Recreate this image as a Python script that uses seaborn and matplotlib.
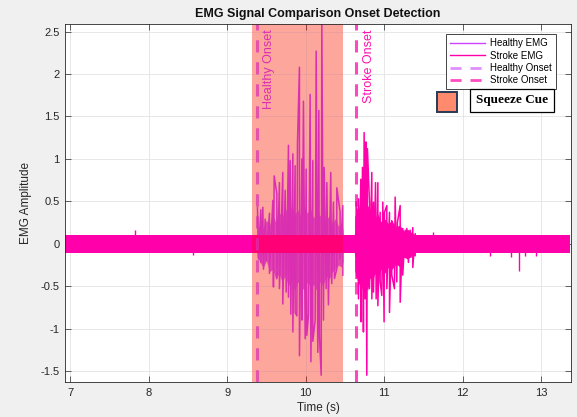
import numpy as np
import pandas as pd
import matplotlib
matplotlib.use("Agg")
import matplotlib.pyplot as plt
import seaborn as sns
from matplotlib.lines import Line2D
from matplotlib.patches import Rectangle

# ---------------- data ----------------
x_ticks = [7, 8, 9, 10, 11, 12, 13]
y_ticks = [-1.5, -1, -0.5, 0, 0.5, 1, 1.5, 2, 2.5]
y_tick_labels = ["-1.5", "-1", "-0.5", "0", "0.5", "1", "1.5", "2", "2.5"]

cue_start, cue_end = 9.32, 10.48
healthy_onset = 9.38
stroke_onset = 10.64

# baseline noise band (stroke signal, covers healthy baseline)
band_t = [6.93, 13.37]
band_hi = [0.105, 0.105]
band_lo = [-0.105, -0.105]

# healthy EMG burst: spike peaks
healthy_up_t = [9.386, 9.429, 9.455, 9.484, 9.539, 9.582, 9.599, 9.633, 9.666, 9.709,
                9.739, 9.781, 9.803, 9.837, 9.866, 9.896, 9.921, 9.952, 9.972, 10.006,
                10.057, 10.091, 10.134, 10.168, 10.206, 10.236, 10.270, 10.320, 10.354,
                10.397, 10.439, 10.474]
healthy_up_v = [0.43, 0.40, 0.43, 0.29, 0.36, 0.51, 0.80, 0.59, 0.72, 0.84,
                0.63, 1.16, 0.98, 1.06, 0.92, 1.19, 2.08, 1.00, 1.68, 0.88,
                1.76, 0.98, 2.27, 1.57, 2.62, 0.90, 0.72, 0.84, 0.49,
                0.66, 0.37, 0.45]
healthy_dn_t = [9.399, 9.429, 9.463, 9.497, 9.539, 9.590, 9.633, 9.666, 9.709, 9.752,
                9.781, 9.811, 9.837, 9.866, 9.888, 9.921, 9.952, 9.994, 10.015, 10.036,
                10.067, 10.091, 10.121, 10.155, 10.176, 10.198, 10.227, 10.261, 10.290,
                10.332, 10.367, 10.396, 10.439, 10.474]
healthy_dn_v = [-0.18, -0.22, -0.30, -0.20, -0.35, -0.51, -0.41, -0.53, -0.71, -0.57,
                -0.63, -0.83, -1.04, -0.81, -0.85, -1.32, -0.90, -1.12, -1.08, -0.84,
                -1.39, -1.15, -0.90, -1.28, -1.10, -1.55, -0.90, -0.53, -0.72,
                -0.47, -0.41, -0.30, -0.18, -0.37]
# healthy dense core envelope (jagged)
healthy_core_t = [9.38, 9.42, 9.46, 9.50, 9.54, 9.58, 9.62, 9.66, 9.70, 9.74, 9.78,
                  9.82, 9.86, 9.90, 9.94, 9.98, 10.02, 10.06, 10.10, 10.14, 10.18,
                  10.22, 10.26, 10.30, 10.34, 10.38, 10.42, 10.46, 10.48]
healthy_core_hi = [0.15, 0.25, 0.18, 0.28, 0.22, 0.35, 0.25, 0.38, 0.30, 0.42, 0.33,
                   0.45, 0.35, 0.40, 0.32, 0.45, 0.36, 0.42, 0.30, 0.40, 0.33,
                   0.38, 0.28, 0.33, 0.24, 0.30, 0.20, 0.25, 0.15]
healthy_core_lo = [-0.15, -0.22, -0.28, -0.20, -0.33, -0.30, -0.42, -0.35, -0.45, -0.38,
                   -0.50, -0.42, -0.55, -0.45, -0.50, -0.55, -0.45, -0.50, -0.48, -0.55,
                   -0.45, -0.50, -0.38, -0.42, -0.33, -0.30, -0.25, -0.28, -0.20]

# stroke EMG burst: spike peaks
stroke_up_t = [10.643, 10.673, 10.703, 10.724, 10.745, 10.767, 10.787, 10.813, 10.843,
               10.864, 10.890, 10.920, 10.949, 10.983, 11.004, 11.034, 11.068, 11.097,
               11.140, 11.169, 11.204, 11.237, 11.268, 11.289, 11.331, 11.365, 11.395]
stroke_up_v = [0.49, 0.53, 0.76, 0.90, 1.31, 1.20, 1.12, 0.49, 0.84,
               0.49, 0.72, 0.72, 0.37, 0.49, 0.37, 0.45, 0.37, 0.27,
               0.55, 0.25, 0.45, 0.18, 0.16, 0.18, 0.16, 0.19, 0.12]
stroke_dn_t = [10.643, 10.673, 10.703, 10.736, 10.758, 10.779, 10.813, 10.843, 10.864,
               10.898, 10.920, 10.949, 10.970, 10.999, 11.034, 11.068, 11.097, 11.131,
               11.161, 11.204, 11.237, 11.280, 11.309, 11.340, 11.365, 11.395]
stroke_dn_v = [-0.41, -0.65, -0.92, -1.04, -0.65, -1.55, -0.53, -0.65, -0.57,
               -0.65, -0.73, -0.45, -0.61, -0.92, -0.53, -0.81, -0.37, -0.53,
               -0.45, -0.69, -0.37, -0.16, -0.22, -0.16, -0.28, -0.14]
# stroke dense core envelope (jagged)
stroke_core_t = [10.62, 10.64, 10.67, 10.70, 10.73, 10.76, 10.79, 10.82, 10.85, 10.88,
                 10.92, 10.96, 11.00, 11.05, 11.10, 11.15, 11.20, 11.25, 11.30, 11.35,
                 11.40]
stroke_core_hi = [0.10, 0.45, 0.38, 0.55, 0.48, 0.60, 0.45, 0.40, 0.46, 0.30,
                  0.35, 0.26, 0.30, 0.24, 0.27, 0.20, 0.22, 0.15, 0.17, 0.13,
                  0.10]
stroke_core_lo = [-0.10, -0.35, -0.50, -0.42, -0.60, -0.50, -0.55, -0.40, -0.45, -0.35,
                  -0.40, -0.30, -0.36, -0.28, -0.30, -0.24, -0.27, -0.16, -0.18, -0.14,
                  -0.10]

# isolated small spikes on the stroke baseline
stroke_spike_t = [7.83, 8.57, 11.62, 12.35, 12.62, 12.72, 12.80, 12.93]
stroke_spike_v = [0.16, -0.13, 0.14, -0.14, -0.16, -0.32, -0.15, -0.14]

# ---------------- styling ----------------
healthy_color = "#cc44ff"
stroke_color = "#ff00aa"

plt.rcParams["font.family"] = ["Liberation Sans", "DejaVu Sans"]

fig = plt.figure(figsize=(5.77, 4.17), dpi=100, facecolor="#f0f0f0")
ax = fig.add_axes([0.1127, 0.0839, 0.8769, 0.8585])
ax.set_facecolor("white")

# squeeze-cue shading (base layer)
ax.axvspan(cue_start, cue_end, color="#fbeee0", zorder=0.2, lw=0)

ax.set_axisbelow(True)
ax.grid(True, color="#e3e3e3", lw=0.6)

# healthy EMG
ax.fill_between(healthy_core_t, healthy_core_lo, healthy_core_hi,
                color=healthy_color, lw=0, alpha=0.8, zorder=1.5)
h_df = pd.DataFrame({"t": healthy_up_t + healthy_dn_t,
                     "v": healthy_up_v + healthy_dn_v}).sort_values("t", kind="stable")
sns.lineplot(data=h_df, x="t", y="v", ax=ax, color=healthy_color, lw=1.1,
             estimator=None, sort=False, legend=False, zorder=2)

# stroke EMG
ax.fill_between(band_t, band_lo, band_hi, color=stroke_color, lw=0, zorder=2.5)
ax.fill_between(stroke_core_t, stroke_core_lo, stroke_core_hi,
                color=stroke_color, lw=0, zorder=2.5)
s_df = pd.DataFrame({"t": stroke_up_t + stroke_dn_t,
                     "v": stroke_up_v + stroke_dn_v}).sort_values("t", kind="stable")
sns.lineplot(data=s_df, x="t", y="v", ax=ax, color=stroke_color, lw=1.1,
             estimator=None, sort=False, legend=False, zorder=2.6)
ax.vlines(stroke_spike_t, 0, stroke_spike_v, color=stroke_color, lw=1.0, zorder=2.6)

# onset lines
ax.axvline(healthy_onset, color=healthy_color, alpha=0.7, lw=2.2,
           ls=(0, (4, 3.2)), zorder=2.8)
ax.axvline(stroke_onset, color=stroke_color, alpha=0.72, lw=2.2,
           ls=(0, (4, 3.2)), zorder=2.8)

ax.text(9.535, 2.53, "Healthy Onset", rotation=90, ha="center", va="top",
        fontsize=9, color=healthy_color, zorder=2.9)
ax.text(10.81, 2.53, "Stroke Onset", rotation=90, ha="center", va="top",
        fontsize=9, color="#ff10b0", zorder=2.9)

# red translucent overlay of the cue shading
ax.axvspan(cue_start, cue_end, color="#ff0000", alpha=0.3, zorder=3, lw=0)

# axes
ax.set_xlim(6.935, 13.38)
ax.set_ylim(-1.63, 2.59)
ax.set_xticks(x_ticks)
ax.set_xticklabels([str(v) for v in x_ticks])
ax.set_yticks(y_ticks)
ax.set_yticklabels(y_tick_labels)
ax.tick_params(direction="in", length=4, width=0.5, top=True, right=True,
               labelsize=8, colors="#262626", pad=4)
for s in ax.spines.values():
    s.set_linewidth(0.6)
    s.set_color("#262626")
    s.set_zorder(5)

ax.set_xlabel("Time (s)", fontsize=8.5, color="#262626", labelpad=3)
ax.set_ylabel("EMG Amplitude", fontsize=8.5, color="#262626", labelpad=6)
ax.set_title("EMG Signal Comparison Onset Detection", fontsize=9,
             fontweight="bold", pad=5, color="#111111")

handles = [
    Line2D([0], [0], color=healthy_color, lw=1.0),
    Line2D([0], [0], color=stroke_color, lw=1.0),
    Line2D([0], [0], color=healthy_color, alpha=0.6, lw=2.0, ls=(0, (4, 3.2))),
    Line2D([0], [0], color=stroke_color, alpha=0.7, lw=2.0, ls=(0, (4, 3.2))),
]
leg = ax.legend(handles, ["Healthy EMG", "Stroke EMG", "Healthy Onset", "Stroke Onset"],
                loc="upper right", bbox_to_anchor=(0.98, 0.985), fontsize=7,
                handlelength=3.6, labelspacing=0.25, borderpad=0.4,
                handletextpad=0.6, fancybox=False, framealpha=1,
                edgecolor="#262626")
leg.get_frame().set_linewidth(0.6)
leg.set_zorder(10)

# Squeeze Cue annotation
fig.patches.append(Rectangle((0.7568, 0.7307), 0.0347, 0.0494,
                             transform=fig.transFigure, facecolor="#ff8a6e",
                             edgecolor="#2b3a55", lw=1.4, zorder=20))
fig.text(0.8882, 0.759, "Squeeze Cue", family=["Liberation Serif", "DejaVu Serif"],
         fontweight="bold", fontsize=9.5, ha="center", va="center", zorder=20,
         bbox=dict(boxstyle="square,pad=0.45", facecolor="white",
                   edgecolor="black", lw=0.9))

fig.savefig("out.png", dpi=100, facecolor=fig.get_facecolor())
